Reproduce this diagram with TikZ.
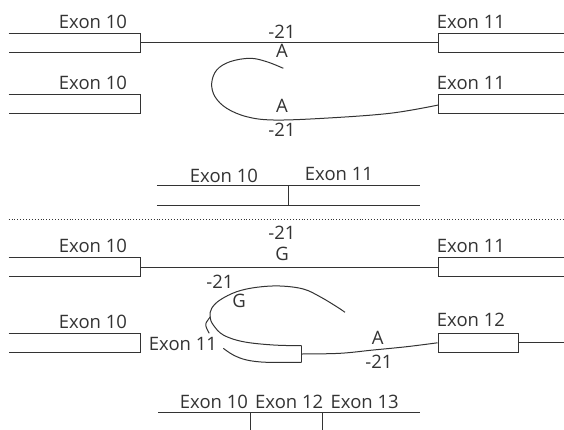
\documentclass[tikz,border=0pt]{standalone}
\usepackage{fontspec}
\setmainfont{Open Sans}
\usetikzlibrary{positioning,calc}
\definecolor{Ink}{HTML}{333333}
\tikzset{
  exonline/.style={draw=Ink,line width=1pt},
  exonbox/.style={draw=Ink,line width=1pt,minimum width=80.3pt,minimum height=19pt,inner sep=0pt},
  intron/.style={draw=Ink,line width=1pt},
  tick/.style={draw=Ink,line width=1pt},
  divider/.style={draw=Ink,line width=.9pt,dotted},
  lbl/.style={text=Ink,font=\fontsize{18.5}{20}\selectfont,inner sep=0pt,anchor=base}
}

\begin{document}
\begin{tikzpicture}[x=1pt,y=-1pt]
  \useasboundingbox (0,0) rectangle (564,430);

  % exon 10, open to the left
  \foreach \t/\n in {33.3/a,95/b,257.7/c,333.3/d} {
    \draw[exonline] (8.6,\t) -- (140.3,\t) -- (140.3,\t+19) -- (8.6,\t+19);
    \coordinate (ten\n) at (140.3,\t+9.5);
    \node[lbl] (lten\n) at (93,\t-5) {Exon 10};
  }
  % exon 11, open to the right
  \foreach \t/\n in {33.3/a,95/b,257.7/c} {
    \draw[exonline] (564,\t) -- (438.3,\t) -- (438.3,\t+19) -- (564,\t+19);
    \coordinate (eleven\n) at (438.3,\t+9.5);
    \node[lbl] (leleven\n) at (471,\t-5) {Exon 11};
  }

  % normal splicing
  \draw[intron] (tena) -- (elevena);
  \node[lbl] (posa) at (282,38.3) {-21};
  \node[lbl] (basea) at (282,57.3) {A};

  \coordinate (loopa) at (283.3,68.3);
  \coordinate (elevenbin) at (438.3,105);
  \draw[intron] plot[smooth,tension=.6] coordinates {(loopa) (266.7,61.7) (250,58.3) (230,61.7) (216.7,70) (211.7,83.3) (215,96.7) (226.7,108.3) (246.7,116.7) (273.3,120) (323.3,118.3) (390,113.3) (elevenbin)};
  \node[lbl] (baseb) at (282,112.7) {A};
  \node[lbl] (posb) at (282,136.7) {-21};

  % mature transcript
  \draw[exonline] (156.8,186) -- (419.8,186);
  \draw[exonline] (156.8,205.3) -- (419.8,205.3);
  \draw[tick] (288.8,186) -- (288.8,205.3);
  \node[lbl] (mten) at (224,182.3) {Exon 10};
  \node[lbl] (meleven) at (339,180.7) {Exon 11};

  \draw[divider] (8.6,219) -- (564,219);

  % mutant splicing
  \draw[intron] (tenc) -- (elevenc);
  \node[lbl] (posc) at (282,240) {-21};
  \node[lbl] (basec) at (282,260) {G};

  \node[exonbox] (twelve) at (478.15,342.8) {};
  \coordinate (twelveend) at (564,342.8);
  \draw[intron] (twelve.east) -- (twelveend);
  \node[lbl] (ltwelve) at (471,326.7) {Exon 12};

  % exon 11 folded into the lariat
  \coordinate (ribtop) at (301.7,345.7);
  \coordinate (ribbot) at (301.7,362.3);
  \coordinate (ribmid) at (301.7,354);
  \coordinate (loopc) at (345,312.3);
  \draw[intron] (ribtop) -- (ribbot);
  \draw[intron] plot[smooth,tension=.6] coordinates {(ribtop) (273.3,345) (243.3,341.7) (223.3,335) (213.3,325) (210,316.7) (211.7,308.3) (220,300) (236.7,291.7) (256.7,287.3) (280,286) (303.3,289) (320,296.7) (336.7,306.7) (loopc)};
  \draw[intron] plot[smooth,tension=.6] coordinates {(ribbot) (266.7,362.3) (246.7,360) (233.3,355) (223.3,348.3)};
  \draw[intron] plot[smooth,tension=.7] coordinates {(210.5,316.7) (206,323.3) (206.7,328.3) (209.3,333.3)};
  \draw[intron] plot[smooth,tension=.6] coordinates {(ribmid) (340,353.3) (373.3,350) (406.7,346.7) (twelve.west)};

  \node[lbl] (posd) at (220,288.3) {-21};
  \node[lbl] (based) at (239,307.3) {G};
  \node[lbl] (lelevend) at (183,350) {Exon 11};
  \node[lbl] (basee) at (377.7,344) {A};
  \node[lbl] (pose) at (379,368.3) {-21};

  % skipped transcript
  \draw[exonline] (158.3,412.3) -- (420,412.3);
  \draw[tick] (250,412.3) -- (250,430);
  \draw[tick] (322.3,412.3) -- (322.3,430);
  \node[lbl] (sten) at (214,408) {Exon 10};
  \node[lbl] (stwelve) at (289.2,408) {Exon 12};
  \node[lbl] (sthirteen) at (364.7,408) {Exon 13};
\end{tikzpicture}
\end{document}
